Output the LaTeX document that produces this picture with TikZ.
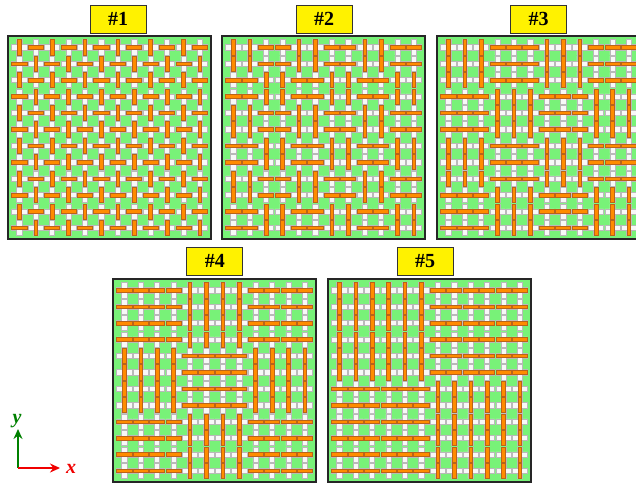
\documentclass[tikz,border=0pt]{standalone}
\usepackage{fontspec}
\setmainfont{Liberation Serif}
\usetikzlibrary{arrows.meta}
\definecolor{gbg}{RGB}{120,242,120}
\definecolor{armc}{RGB}{248,248,248}
\definecolor{armedge}{RGB}{185,185,185}
\definecolor{fibc}{RGB}{255,140,0}
\definecolor{fibedge}{RGB}{185,100,25}
\definecolor{axgreen}{RGB}{0,128,0}
\definecolor{axred}{RGB}{240,0,0}
\tikzset{
  panelbox/.style={draw=black!85, line width=1.4pt},
  crossarm/.style={fill=armc, draw=armedge, line width=0.5pt},
  fiber/.style={fill=fibc, draw=fibedge, line width=0.55pt},
  lab/.style={fill=yellow, draw=black!80, line width=0.8pt, minimum width=56pt, minimum height=28pt, inner sep=0pt, font=\fontsize{20}{24}\selectfont\bfseries},
  axlab/.style={font=\fontsize{20}{24}\selectfont\bfseries\itshape, inner sep=0pt},
  axarrow/.style={line width=2.6pt, -{Stealth[length=10pt,width=9pt]}},
}
% #1 left, #2 top, #3 block size, #4 parity
\newcommand{\myweave}[4]{%
  \fill[gbg] (#1,#2) rectangle ({#1+203},{#2+203});
  \foreach \r in {0,...,11}{%
    \foreach \c in {0,...,11}{%
      \pgfmathsetmacro{\cx}{#1+3+16.42*(\c+0.5)}%
      \pgfmathsetmacro{\cy}{#2+3+16.42*(\r+0.5)}%
      \pgfmathtruncatemacro{\vv}{mod(floor(\r/#3)+floor(\c/#3)+#4,2)}%
      \begin{scope}[shift={(\cx,\cy)}]
        \draw[crossarm] (-2.6,-7.6) -- (2.6,-7.6) -- (2.6,-2.6) -- (7.6,-2.6) -- (7.6,2.6) -- (2.6,2.6) -- (2.6,7.6) -- (-2.6,7.6) -- (-2.6,2.6) -- (-7.6,2.6) -- (-7.6,-2.6) -- (-2.6,-2.6) -- cycle;
        \ifnum\vv=0
          \draw[fiber] (-1.8,-7.6) rectangle (1.8,7.6);
        \else
          \draw[fiber] (-7.6,-1.8) rectangle (7.6,1.8);
        \fi
      \end{scope}
    }%
  }%
  \draw[panelbox] (#1,#2) rectangle ({#1+203},{#2+203});
}
\begin{document}
\begin{tikzpicture}[x=1pt,y=-1pt]
\useasboundingbox (0,0) rectangle (636,483);
\clip (0,0) rectangle (636,483);
\myweave{8}{36}{1}{0}
\myweave{222}{36}{2}{0}
\myweave{437}{36}{3}{0}
\myweave{113}{279}{4}{1}
\myweave{328}{279}{6}{0}
\node[lab] (l1) at (118,19) {\#1};
\node[lab] (l2) at (324,19) {\#2};
\node[lab] (l3) at (538.5,19) {\#3};
\node[lab] (l4) at (214.8,261) {\#4};
\node[lab] (l5) at (425.2,261) {\#5};
\coordinate (o) at (18,468);
\coordinate (ye) at (18,429);
\coordinate (xe) at (60,468);
\draw[axarrow, axgreen] (o) -- (ye);
\draw[axarrow, axred] (o) -- (xe);
\node[axlab, text=axgreen] (ylab) at (17,421) {y};
\node[axlab, text=axred] (xlab) at (71,469) {x};
\end{tikzpicture}
\end{document}
